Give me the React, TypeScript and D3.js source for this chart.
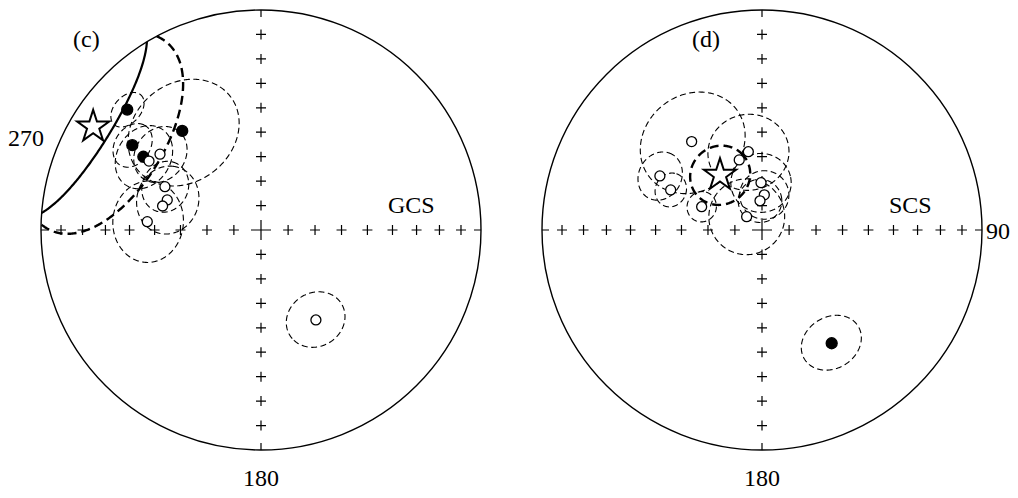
import React from "react";
import * as d3 from "d3";

const WIDTH = 1018;
const HEIGHT = 498;
const RADIUS = 220;
const CENTER_Y = 230;

// Site-mean directions, geographic coordinates (negative inclination = upper hemisphere)
const gcsDec = [312.0, 321.5, 303.4, 301.9, 306.9, 301.6, 294.3, 287.8, 283.7, 274.2, 148.6];
const gcsInc = [19.3, 42.0, 30.6, 37.1, -42.1, -40.0, -50.4, -53.1, -52.0, -47.0, -50.4];
const gcsA95 = [6, 20, 7.5, 11, 10, 0, 9, 12, 0, 14, 10.5];

// Site-mean directions, stratigraphic coordinates
const scsDec = [321.5, 350.1, 342.0, 297.9, 293.7, 358.8, 3.8, 356.1, 291.1, 311.0, 148.4];
const scsInc = [-47.4, -60.4, -62.6, -46.4, -52.6, -72.5, -77.0, -79.2, -66.0, -82.5, 39.4];
const scsA95 = [19, 14.5, 0, 8.5, 6, 11, 9, 8, 5.5, 14, 10.5];

// Overall mean directions and their confidence circles
const meanDec = [301.6, 322.6];
const meanInc = [11.4, 64.3];
const meanA95 = [32, 11];

// Small circle through the geographic-coordinate directions (pole lies in the upper hemisphere)
const arcPole = [301.6, -9];
const arcRadius = 28.5;

// Grid crosses along the axes, every 10 degrees of inclination
const tickInc = [10, 20, 30, 40, 50, 60, 70, 80];

const FONT = "'Liberation Serif', 'Times New Roman', serif";
const FONT_SIZE = 24;

type PanelProps = {
  cx: number;
  dec: number[];
  inc: number[];
  a95: number[];
  mean: number;
  tag: string;
  coord: string;
  showArc: boolean;
  sideLabel: "270" | "90";
};

// declination/inclination -> lon/lat on the lower-hemisphere net
const toGeo = (d: number, i: number): [number, number] => [180 - d, Math.abs(i)];
const toGeoSigned = (d: number, i: number): [number, number] => [180 - d, i];

function Stereonet({ cx, dec, inc, a95, mean, tag, coord, showArc, sideLabel }: PanelProps) {
  const cy = CENTER_Y;
  const projection = d3
    .geoAzimuthalEqualArea()
    .rotate([0, -90])
    .scale(RADIUS / Math.SQRT2)
    .translate([cx, cy])
    .clipAngle(90)
    .precision(0.1);
  const path = d3.geoPath(projection);

  const circleLine = (center: [number, number], r: number) => {
    const ring = d3.geoCircle().center(center).radius(r).precision(1)().coordinates[0];
    return path({ type: "LineString", coordinates: ring } as any) || "";
  };

  // vertical axis: evenly spaced crosses
  const vScale = d3.scaleLinear().domain([90, 0]).range([0, RADIUS]);

  const crosses: [number, number][] = [];
  tickInc.forEach((t) => {
    const e = projection(toGeo(90, t))!;
    const w = projection(toGeo(270, t))!;
    crosses.push([e[0], e[1]], [w[0], w[1]]);
    crosses.push([cx, cy - vScale(t)], [cx, cy + vScale(t)]);
  });

  const arm = 5;
  const crossPath = crosses
    .map(([x, y]) => `M${x - arm},${y}h${arm * 2}M${x},${y - arm}v${arm * 2}`)
    .join("");
  const big = 10;
  const edge = 7;
  const frame =
    `M${cx - big},${cy}h${big * 2}M${cx},${cy - big}v${big * 2}` +
    `M${cx},${cy - RADIUS}v${edge}M${cx},${cy + RADIUS}v${-edge}` +
    `M${cx - RADIUS},${cy}h${edge}M${cx + RADIUS},${cy}h${-edge}`;

  const star = d3.symbol(d3.symbolStar, 320)() || "";
  const starPos = projection(toGeo(meanDec[mean], meanInc[mean]))!;

  return (
    <g>
      <circle cx={cx} cy={cy} r={RADIUS} fill="none" stroke="#000" strokeWidth={1.4} />
      <path d={crossPath} stroke="#000" strokeWidth={1.2} fill="none" />
      <path d={frame} stroke="#000" strokeWidth={1.2} fill="none" />

      {dec.map((d, k) =>
        a95[k] > 0 ? (
          <path
            key={`c${k}`}
            d={circleLine(toGeo(d, inc[k]), a95[k])}
            fill="none"
            stroke="#000"
            strokeWidth={1.1}
            strokeDasharray="6 3.5"
          />
        ) : null
      )}

      {showArc && (
        <path
          d={circleLine(toGeoSigned(arcPole[0], arcPole[1]), arcRadius)}
          fill="none"
          stroke="#000"
          strokeWidth={2.2}
        />
      )}

      <path
        d={circleLine(toGeo(meanDec[mean], meanInc[mean]), meanA95[mean])}
        fill="none"
        stroke="#000"
        strokeWidth={2.4}
        strokeDasharray="9 5"
      />

      {dec.map((d, k) => {
        const p = projection(toGeo(d, inc[k]))!;
        return (
          <circle
            key={`p${k}`}
            cx={p[0]}
            cy={p[1]}
            r={inc[k] > 0 ? 5.5 : 5}
            fill={inc[k] > 0 ? "#000" : "#fff"}
            stroke="#000"
            strokeWidth={1.3}
          />
        );
      })}

      <path
        d={star}
        transform={`translate(${starPos[0]},${starPos[1]})`}
        fill="#fff"
        stroke="#000"
        strokeWidth={2}
      />

      <text x={cx} y={486} textAnchor="middle" fontSize={FONT_SIZE} fontFamily={FONT}>
        180
      </text>
      <text x={cx + 127} y={213} fontSize={FONT_SIZE} fontFamily={FONT}>
        {coord}
      </text>
      {sideLabel === "270" ? (
        <text x={cx - 253} y={146} fontSize={FONT_SIZE} fontFamily={FONT}>
          270
        </text>
      ) : (
        <text x={cx + 224} y={239} fontSize={FONT_SIZE} fontFamily={FONT}>
          90
        </text>
      )}
      <text x={tag === "(c)" ? cx - 188 : cx - 70} y={47} fontSize={FONT_SIZE} fontFamily={FONT}>
        {tag}
      </text>
    </g>
  );
}

export default function App() {
  return (
    <svg
      width={WIDTH}
      height={HEIGHT}
      style={{ display: "block", position: "absolute", left: 0, top: 0, background: "#fff" }}
    >
      <Stereonet
        cx={261}
        dec={gcsDec}
        inc={gcsInc}
        a95={gcsA95}
        mean={0}
        tag="(c)"
        coord="GCS"
        showArc={true}
        sideLabel="270"
      />
      <Stereonet
        cx={762}
        dec={scsDec}
        inc={scsInc}
        a95={scsA95}
        mean={1}
        tag="(d)"
        coord="SCS"
        showArc={false}
        sideLabel="90"
      />
    </svg>
  );
}
